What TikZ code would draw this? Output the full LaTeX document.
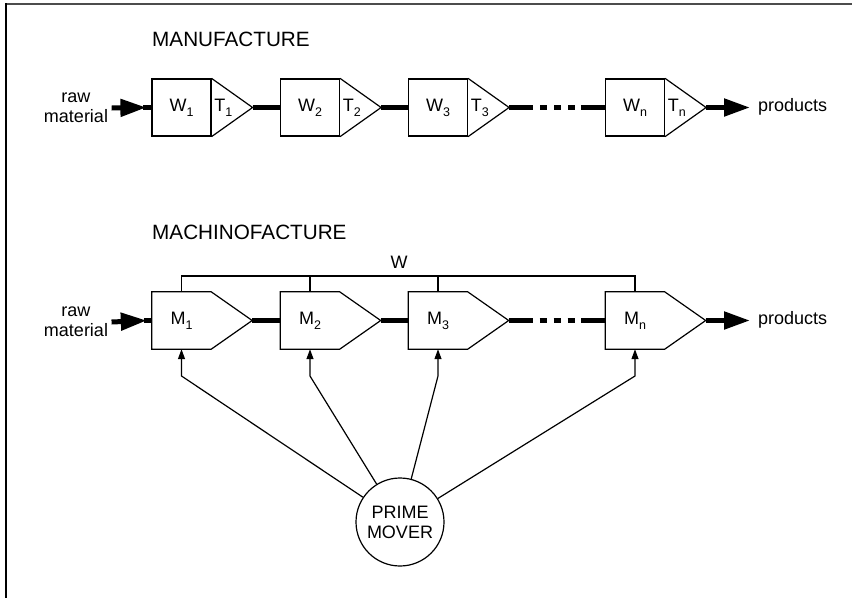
\documentclass[tikz,border=0pt]{standalone}
\usepackage{fontspec}
\setmainfont{Liberation Sans}
\usetikzlibrary{arrows.meta,calc}
\newcommand\lsub[1]{\raisebox{-5pt}{\fontsize{12.5}{12.5}\selectfont #1}}
\begin{document}
\begin{tikzpicture}[x=1pt,y=-1pt,
  lbl/.style={font=\fontsize{18}{20}\selectfont},
  head/.style={font=\fontsize{20.7}{24}\selectfont, anchor=west, inner sep=0pt},
  box/.style={minimum width=59pt, minimum height=57pt, inner sep=0pt, lbl},
  thinline/.style={line width=1.2pt},
  thickline/.style={line width=5pt},
  bigarrow/.style={-{Triangle[length=26pt,width=17pt]}},
  smallarrow/.style={-{Triangle[length=10pt,width=7pt]}},
]
\useasboundingbox (0,0) rectangle (852,598);
% frame
\draw[line width=2pt, black!70] (852,4) -- (6,4);
\draw[line width=2pt, black] (6,3) -- (6,598);

% ---------------- MANUFACTURE ----------------
\node[head] (hA) at (152,39) {MANUFACTURE};
\foreach \n/\x in {1/181.5,2/310,3/438,n/635}{
  \node[box, draw, thinline] (w\n) at (\x,107.5) {W\lsub{\n}};
  \draw[thinline] (w\n.north east) -- ($(w\n.east)+(41,0)$) coordinate (tw\n) -- (w\n.south east);
  \node[lbl, anchor=west, inner sep=2.5pt] (tl\n) at (w\n.east) {T\lsub{\n}};
}
\node[lbl, align=center] (rawA) at (76,108) {raw\\material};
\draw[thickline, bigarrow] (rawA.east) -- ($(w1.west)+(-5,0)$);
\draw[thickline] ($(w1.west)+(-8,0)$) -- (w1.west);
\draw[thickline] (tw1) -- (w2.west);
\draw[thickline] (tw2) -- (w3.west);
\draw[thickline] (tw3) -- ($(tw3)+(24,0)$);
\draw[thickline, dash pattern=on 7pt off 7pt, dash phase=7pt] ($(tw3)+(24,0)$) -- ($(wn.west)+(-24,0)$);
\draw[thickline] ($(wn.west)+(-24,0)$) -- (wn.west);
\node[lbl, anchor=west, inner sep=0pt] (pA) at (758,107) {products};
\coordinate (pAe) at (750,107.5);
\draw[thickline, bigarrow] (twn) -- (pAe);

% ---------------- MACHINOFACTURE ----------------
\node[head] (hB) at (152,232.5) {MACHINOFACTURE};
\foreach \n/\x in {1/181.5,2/310,3/438,n/635}{
  \node[box] (m\n) at (\x,320.5) {M\lsub{\n}};
  \draw[thinline] (m\n.south east) -- (m\n.south west) -- (m\n.north west) -- (m\n.north east)
     -- ($(m\n.east)+(41,0)$) coordinate (tm\n) -- cycle;
}
\node[lbl, align=center] (rawB) at (76,322) {raw\\material};
\draw[thickline, bigarrow] (rawB.east) -- ($(m1.west)+(-5,0)$);
\draw[thickline] ($(m1.west)+(-8,0)$) -- (m1.west);
\draw[thickline] (tm1) -- (m2.west);
\draw[thickline] (tm2) -- (m3.west);
\draw[thickline] (tm3) -- ($(tm3)+(24,0)$);
\draw[thickline, dash pattern=on 7pt off 7pt, dash phase=7pt] ($(tm3)+(24,0)$) -- ($(mn.west)+(-24,0)$);
\draw[thickline] ($(mn.west)+(-24,0)$) -- (mn.west);
\node[lbl, anchor=west, inner sep=0pt] (pB) at (758,320) {products};
\coordinate (pBe) at (750,320.5);
\draw[thickline, bigarrow] (tmn) -- (pBe);

% W bus
\coordinate (bus) at (400,276);
\node[lbl] (wlab) at (399,262) {W};
\draw[thinline] (m1.north) -- (m1.north |- bus) -- (mn.north |- bus) -- (mn.north);
\draw[thinline] (m2.north) -- (m2.north |- bus);
\draw[thinline] (m3.north) -- (m3.north |- bus);

% prime mover
\node[draw, thinline, circle, minimum size=88pt, inner sep=0pt, lbl, align=center] (pm) at (400,522) {PRIME\\MOVER};
\coordinate (knee) at (400,376);
\foreach \n in {1,2,3,n}{
  \draw[thinline, smallarrow] (pm) -- (m\n.south |- knee) -- (m\n.south);
}
\end{tikzpicture}
\end{document}
